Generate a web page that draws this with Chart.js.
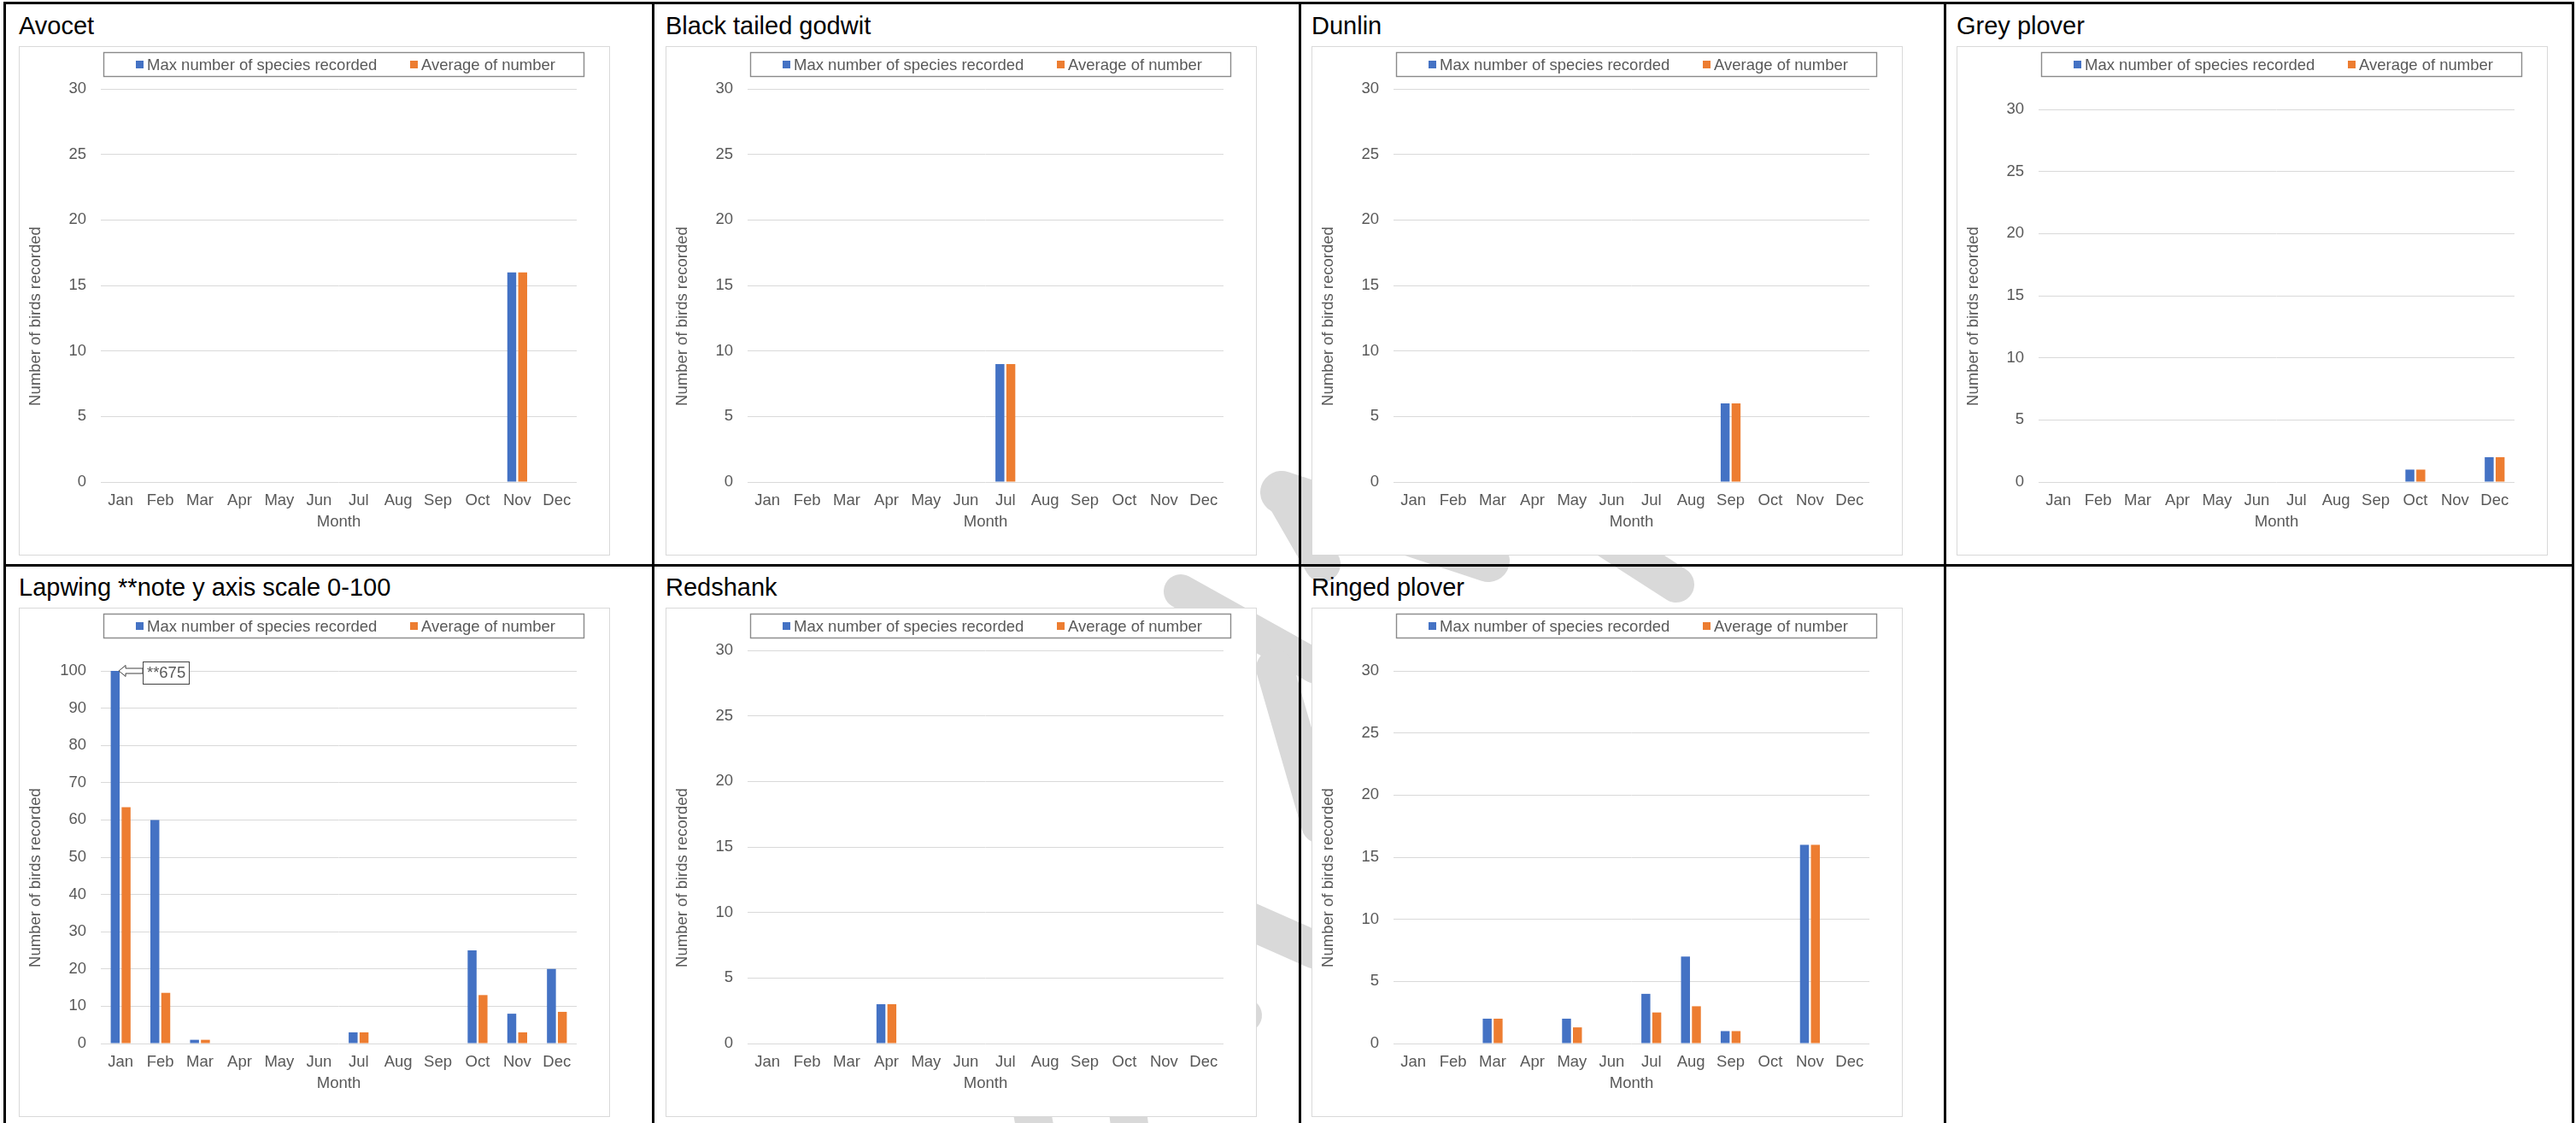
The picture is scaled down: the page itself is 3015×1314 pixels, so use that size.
<!DOCTYPE html>
<html>
<head>
<meta charset="utf-8">
<title>Wader counts by month</title>
<script src="https://cdn.jsdelivr.net/npm/chart.js@4/dist/chart.umd.min.js"></script>
<style>
  html, body { margin: 0; padding: 0; background: #fff; }
  body { width: 3015px; height: 1314px; position: relative; overflow: hidden;
         font-family: "Liberation Sans", Arial, sans-serif; }
  #mark { position: absolute; left: 0; top: 0; z-index: 0; pointer-events: none; }
  #page { position: absolute; left: 0; top: 0; width: 3015px; height: 1314px; z-index: 1; }
  .rule { position: absolute; background: #000; z-index: 3; }
  .title { position: absolute; font-size: 29px; line-height: 1; color: #000; white-space: nowrap; z-index: 2; }
  .box { position: absolute; width: 692px; height: 596px; border: 1px solid #d9d9d9;
         box-sizing: border-box; background: #fff; z-index: 2; }
  .box canvas { position: absolute; left: -1px; top: -1px; }
</style>
</head>
<body>
<!-- faint background watermark strokes; mostly covered by the white chart boxes -->
<svg id="mark" width="3015" height="1314" viewBox="0 0 3015 1314">
  <g fill="none" stroke="#d9d9d9" stroke-linecap="round" stroke-linejoin="round">
    <path d="M1500 576 L1742 656" stroke-width="50"/>
    <path d="M1502 580 L1548 660" stroke-width="42"/>
    <path d="M1850 612 L1962 684" stroke-width="42"/>
    <path d="M1382 692 L1540 780" stroke-width="40"/>
    <path d="M1492 782 L1545 965" stroke-width="44"/>
    <path d="M1400 1050 L1540 1112" stroke-width="44"/>
    <path d="M1380 1120 L1457 1188" stroke-width="40"/>
    <path d="M1205 1285 L1215 1340" stroke-width="44"/>
    <path d="M1318 1285 L1325 1340" stroke-width="44"/>
  </g>
</svg>
<div id="page"></div>
<script>
// ---- data -------------------------------------------------------------
const months = ['Jan', 'Feb', 'Mar', 'Apr', 'May', 'Jun', 'Jul', 'Aug', 'Sep', 'Oct', 'Nov', 'Dec'];
const seriesMaxLabel = 'Max number of species recorded';
const seriesAvgLabel = 'Average of number';
const yAxisTitle = 'Number of birds recorded';
const xAxisTitle = 'Month';

const avocetMax      = [0, 0, 0, 0, 0, 0, 0, 0, 0, 0, 16, 0];
const avocetAvg      = [0, 0, 0, 0, 0, 0, 0, 0, 0, 0, 16, 0];
const godwitMax      = [0, 0, 0, 0, 0, 0, 9, 0, 0, 0, 0, 0];
const godwitAvg      = [0, 0, 0, 0, 0, 0, 9, 0, 0, 0, 0, 0];
const dunlinMax      = [0, 0, 0, 0, 0, 0, 0, 0, 6, 0, 0, 0];
const dunlinAvg      = [0, 0, 0, 0, 0, 0, 0, 0, 6, 0, 0, 0];
const greyPloverMax  = [0, 0, 0, 0, 0, 0, 0, 0, 0, 1, 0, 2];
const greyPloverAvg  = [0, 0, 0, 0, 0, 0, 0, 0, 0, 1, 0, 2];
const lapwingMax     = [675, 60, 1, 0, 0, 0, 3, 0, 0, 25, 8, 20];
const lapwingAvg     = [63.4, 13.6, 1, 0, 0, 0, 3, 0, 0, 13, 3, 8.5];
const redshankMax    = [0, 0, 0, 3, 0, 0, 0, 0, 0, 0, 0, 0];
const redshankAvg    = [0, 0, 0, 3, 0, 0, 0, 0, 0, 0, 0, 0];
const ringedMax      = [0, 0, 2, 0, 2, 0, 4, 7, 1, 0, 16, 0];
const ringedAvg      = [0, 0, 2, 0, 1.3, 0, 2.5, 3, 1, 0, 16, 0];

// y-axis ranges: the standard 0-30 scale and the wider lapwing scale
const yMaxStandard = 30, yStepStandard = 5;
const yMaxLapwing = 100, yStepLapwing = 10;

// ---- styling ----------------------------------------------------------
const FONT = '"Liberation Sans", Arial, sans-serif';
const TEXT_GREY = '#595959';
const GRID_GREY = '#d9d9d9';
const BLUE = '#4472C4';
const ORANGE = '#ED7D31';
const AXIS_FONT = 18.5;

Chart.defaults.font.family = FONT;
Chart.defaults.color = TEXT_GREY;

// ---- page frame (table rules) -------------------------------------------
const page = document.getElementById('page');
function rule(x, y, w, h) {
  const d = document.createElement('div');
  d.className = 'rule';
  Object.assign(d.style, { left: x + 'px', top: y + 'px', width: w + 'px', height: h + 'px' });
  page.appendChild(d);
}
rule(4, 2, 3009, 3);        // top
rule(4, 2, 3, 1312);        // left
rule(763, 2, 3, 1312);      // column rules
rule(1520, 2, 3, 1312);
rule(2275, 2, 3, 1312);
rule(3010, 2, 3, 1312);     // right
rule(4, 660, 3009, 3);      // row rule

// ---- plugins ----------------------------------------------------------
// Legend drawn inside a framed box above the plot
const boxedLegend = {
  id: 'boxedLegend',
  afterDraw(chart, _args, o) {
    const ctx = chart.ctx;
    ctx.save();
    ctx.strokeStyle = '#8a8a8a';
    ctx.lineWidth = 1.4;
    ctx.strokeRect(o.left + 0.5, o.top + 0.5, o.width, o.height);
    const cy = o.top + o.height / 2 + 0.5;
    ctx.font = AXIS_FONT + 'px ' + FONT;
    ctx.textBaseline = 'middle';
    ctx.textAlign = 'left';
    chart.data.datasets.forEach((ds, i) => {
      const sx = o.swatchX[i];
      ctx.fillStyle = ds.backgroundColor;
      ctx.fillRect(sx, cy - 4.5, 9, 9);
      ctx.fillStyle = TEXT_GREY;
      ctx.fillText(ds.label, sx + 13, cy + 1);
    });
    ctx.restore();
  }
};

// Vertical axis title placed at a fixed height in the chart box
const sideTitle = {
  id: 'sideTitle',
  afterDraw(chart, _args, o) {
    const ctx = chart.ctx;
    ctx.save();
    ctx.translate(o.x, o.y);
    ctx.rotate(-Math.PI / 2);
    ctx.font = AXIS_FONT + 'px ' + FONT;
    ctx.fillStyle = TEXT_GREY;
    ctx.textAlign = 'center';
    ctx.textBaseline = 'middle';
    ctx.fillText(o.text, 0, 0);
    ctx.restore();
  }
};

// Arrow call-out for a bar that runs past the top of the axis
const offScaleNote = {
  id: 'offScaleNote',
  afterDatasetsDraw(chart, _args, o) {
    if (!o || o.datasetIndex === undefined) return;
    const yScale = chart.scales.y;
    const value = chart.data.datasets[o.datasetIndex].data[o.index];
    if (value <= yScale.max) return;
    const bar = chart.getDatasetMeta(o.datasetIndex).data[o.index];
    const tx = bar.x + bar.width / 2 - 1;
    const ty = yScale.getPixelForValue(yScale.max);
    const bx = tx + 28;
    const ctx = chart.ctx;
    ctx.save();
    ctx.lineWidth = 1;
    ctx.strokeStyle = '#404040';
    ctx.fillStyle = '#fff';
    ctx.beginPath();
    ctx.moveTo(tx, ty);
    ctx.lineTo(tx + 8, ty - 6.5);
    ctx.lineTo(tx + 8, ty - 3);
    ctx.lineTo(bx, ty - 3);
    ctx.lineTo(bx, ty + 3);
    ctx.lineTo(tx + 8, ty + 3);
    ctx.lineTo(tx + 8, ty + 6.5);
    ctx.closePath();
    ctx.fill();
    ctx.stroke();
    ctx.fillRect(bx, ty - 11, 54, 26);
    ctx.strokeRect(bx + 0.5, ty - 11 + 0.5, 54, 26);
    ctx.fillStyle = TEXT_GREY;
    ctx.font = AXIS_FONT + 'px ' + FONT;
    ctx.textAlign = 'center';
    ctx.textBaseline = 'middle';
    ctx.fillText('**' + value, bx + 27.5, ty + 3);
    ctx.restore();
  }
};

// ---- panels -----------------------------------------------------------
const panels = [
  { title: 'Avocet', maxData: avocetMax, avgData: avocetAvg, yMax: yMaxStandard, yStep: yStepStandard,
    left: 22, top: 54, titleTop: 15.5, plotTop: 50 },
  { title: 'Black tailed godwit', maxData: godwitMax, avgData: godwitAvg, yMax: yMaxStandard, yStep: yStepStandard,
    left: 779, top: 54, titleTop: 15.5, plotTop: 50 },
  { title: 'Dunlin', maxData: dunlinMax, avgData: dunlinAvg, yMax: yMaxStandard, yStep: yStepStandard,
    left: 1535, top: 54, titleTop: 15.5, plotTop: 50 },
  { title: 'Grey plover', maxData: greyPloverMax, avgData: greyPloverAvg, yMax: yMaxStandard, yStep: yStepStandard,
    left: 2290, top: 54, titleTop: 15.5, plotTop: 74 },
  { title: 'Lapwing **note y axis scale 0-100', maxData: lapwingMax, avgData: lapwingAvg, yMax: yMaxLapwing, yStep: yStepLapwing,
    left: 22, top: 711, titleTop: 672.5, plotTop: 74, note: true },
  { title: 'Redshank', maxData: redshankMax, avgData: redshankAvg, yMax: yMaxStandard, yStep: yStepStandard,
    left: 779, top: 711, titleTop: 672.5, plotTop: 50 },
  { title: 'Ringed plover', maxData: ringedMax, avgData: ringedAvg, yMax: yMaxStandard, yStep: yStepStandard,
    left: 1535, top: 711, titleTop: 672.5, plotTop: 74 }
];

const BOX_W = 692, BOX_H = 596, PLOT_BOTTOM = 510;

panels.forEach(p => {
  const t = document.createElement('div');
  t.className = 'title';
  t.style.left = p.left + 'px';
  t.style.top = p.titleTop + 'px';
  t.textContent = p.title;
  page.appendChild(t);

  const box = document.createElement('div');
  box.className = 'box';
  box.style.left = p.left + 'px';
  box.style.top = p.top + 'px';
  const canvas = document.createElement('canvas');
  canvas.width = BOX_W;
  canvas.height = BOX_H;
  box.appendChild(canvas);
  page.appendChild(box);

  new Chart(canvas, {
    type: 'bar',
    data: {
      labels: months,
      datasets: [
        { label: seriesMaxLabel, data: p.maxData, backgroundColor: BLUE, clip: 0,
          categoryPercentage: 0.55, barPercentage: 0.82 },
        { label: seriesAvgLabel, data: p.avgData, backgroundColor: ORANGE, clip: 0,
          categoryPercentage: 0.55, barPercentage: 0.82 }
      ]
    },
    plugins: [boxedLegend, sideTitle, offScaleNote],
    options: {
      responsive: false,
      animation: false,
      devicePixelRatio: 1,
      layout: { padding: { left: 0, right: 39, top: p.plotTop, bottom: 0 } },
      plugins: {
        legend: { display: false },
        tooltip: { enabled: false },
        boxedLegend: { left: 99, top: 7, width: 562, height: 28, swatchX: [137, 458] },
        sideTitle: { x: 20, y: 316, text: yAxisTitle },
        offScaleNote: p.note ? { datasetIndex: 0, index: 0 } : {}
      },
      scales: {
        x: {
          grid: { display: false, drawTicks: false },
          border: { display: false },
          ticks: { padding: 11, color: TEXT_GREY, font: { size: AXIS_FONT } },
          title: { display: true, text: xAxisTitle, color: TEXT_GREY,
                   font: { size: AXIS_FONT }, padding: { top: 0, bottom: 28 } },
          afterFit: s => { s.height = BOX_H - PLOT_BOTTOM; }
        },
        y: {
          min: 0,
          max: p.yMax,
          ticks: { stepSize: p.yStep, padding: 17, color: TEXT_GREY, font: { size: AXIS_FONT } },
          grid: { color: GRID_GREY, lineWidth: 1, drawTicks: false },
          border: { display: false },
          afterFit: s => { s.width = 96; }
        }
      }
    }
  });
});
</script>
</body>
</html>
